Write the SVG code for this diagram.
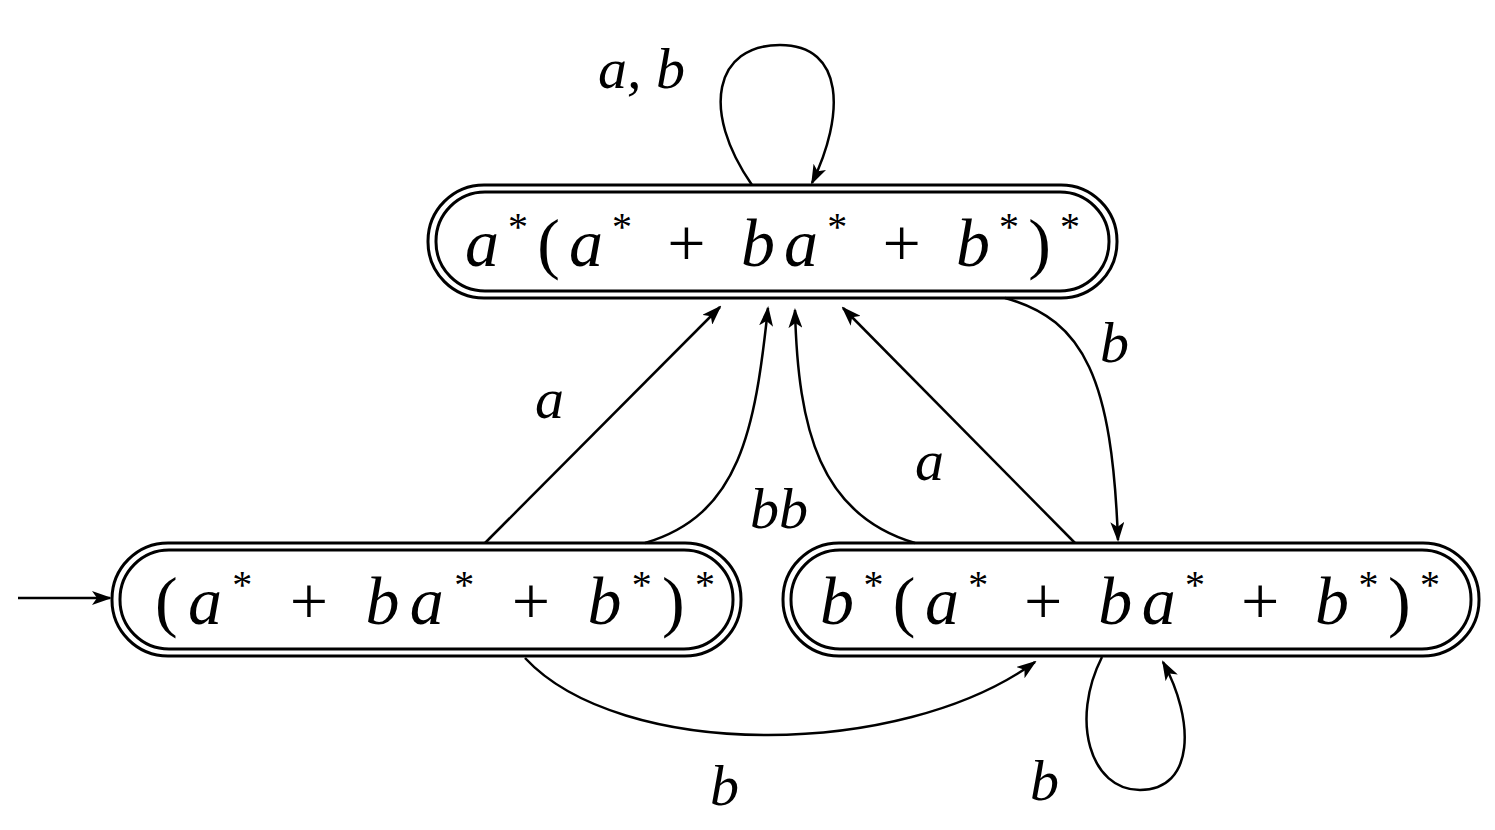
<svg xmlns="http://www.w3.org/2000/svg" width="1495" height="830" viewBox="0 0 1495 830">
<style>
.n{fill:none;stroke:#000;stroke-width:3}
.e{fill:none;stroke:#000;stroke-width:2.5;marker-end:url(#ah)}
.t{font-family:"Liberation Serif",serif;font-size:68px;fill:#000}
.i{font-style:italic}
.s{font-size:40px}
.l{font-family:"Liberation Serif",serif;font-style:italic;font-size:58px;fill:#000}
</style>
<defs><marker id="ah" viewBox="0 0 20 14" refX="18" refY="7" markerWidth="20" markerHeight="14" orient="auto" markerUnits="userSpaceOnUse"><path d="M0,0 L20,7 L0,14 L5,7 Z" fill="#000"/></marker></defs>
<rect width="1495" height="830" fill="#fff"/>
<g id="top">
<rect class="n" x="428" y="185" width="689" height="113" rx="56"/>
<rect class="n" x="436" y="192" width="673" height="99" rx="49"/>
<text class="t" x="465" y="266" textLength="615" lengthAdjust="spacing"><tspan class="i">a</tspan><tspan class="s" dy="-26">*</tspan><tspan dy="26">(</tspan><tspan class="i">a</tspan><tspan class="s" dy="-26">*</tspan><tspan dy="26"> + </tspan><tspan class="i">ba</tspan><tspan class="s" dy="-26">*</tspan><tspan dy="26"> + </tspan><tspan class="i">b</tspan><tspan class="s" dy="-26">*</tspan><tspan dy="26">)</tspan><tspan class="s" dy="-26">*</tspan></text>
</g>
<g id="left">
<rect class="n" x="112" y="543" width="629" height="113" rx="56"/>
<rect class="n" x="120" y="550" width="613" height="99" rx="49"/>
<text class="t" x="155" y="624" textLength="560" lengthAdjust="spacing">(<tspan class="i">a</tspan><tspan class="s" dy="-26">*</tspan><tspan dy="26"> + </tspan><tspan class="i">ba</tspan><tspan class="s" dy="-26">*</tspan><tspan dy="26"> + </tspan><tspan class="i">b</tspan><tspan class="s" dy="-26">*</tspan><tspan dy="26">)</tspan><tspan class="s" dy="-26">*</tspan></text>
</g>
<g id="right">
<rect class="n" x="783" y="543" width="696" height="113" rx="56"/>
<rect class="n" x="791" y="550" width="680" height="99" rx="49"/>
<text class="t" x="820" y="624" textLength="620" lengthAdjust="spacing"><tspan class="i">b</tspan><tspan class="s" dy="-26">*</tspan><tspan dy="26">(</tspan><tspan class="i">a</tspan><tspan class="s" dy="-26">*</tspan><tspan dy="26"> + </tspan><tspan class="i">ba</tspan><tspan class="s" dy="-26">*</tspan><tspan dy="26"> + </tspan><tspan class="i">b</tspan><tspan class="s" dy="-26">*</tspan><tspan dy="26">)</tspan><tspan class="s" dy="-26">*</tspan></text>
</g>
<g id="edges">
<path class="e" d="M18,598 L110,598"/>
<path class="e" d="M752,185 C700,110 715,45 780,45 C845,45 845,115 812,183"/>
<path class="e" d="M485,543 L720,307"/>
<path class="e" d="M645,543 C740,515 755,430 768,308"/>
<path class="e" d="M915,543 C820,515 798,430 795,310"/>
<path class="e" d="M1075,543 L843,308"/>
<path class="e" d="M1005,298 C1085,320 1112,380 1118,540"/>
<path class="e" d="M525,658 C620,760 900,760 1035,662"/>
<path class="e" d="M1102,657 C1070,720 1090,790 1140,790 C1195,790 1195,720 1163,662"/>
</g>
<g id="labels">
<text class="l" x="598" y="88">a, b</text>
<text class="l" x="535" y="418">a</text>
<text class="l" x="750" y="528">bb</text>
<text class="l" x="915" y="480">a</text>
<text class="l" x="1100" y="362">b</text>
<text class="l" x="710" y="805">b</text>
<text class="l" x="1030" y="800">b</text>
</g>
</svg>
